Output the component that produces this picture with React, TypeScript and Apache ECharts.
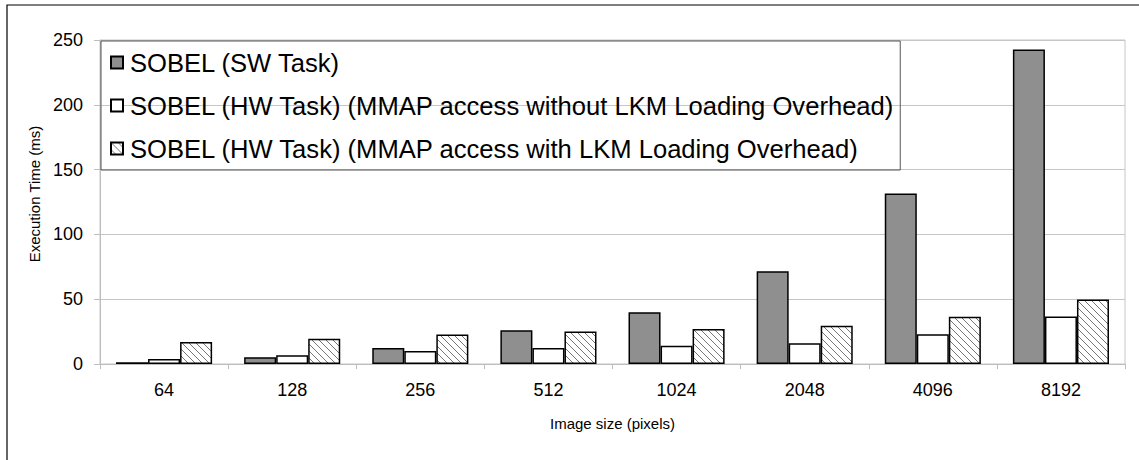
import React, { useEffect, useRef } from "react";
import * as echarts from "echarts";

// Image sizes on the x axis
const categories = ["64", "128", "256", "512", "1024", "2048", "4096", "8192"];

// Execution times (ms)
const swTask = [1.3, 5.2, 12.4, 26.1, 40, 71.5, 131.5, 242.6];
const hwNoLkm = [3.9, 6.7, 10, 12.4, 14, 16, 23, 36.7];
const hwWithLkm = [17, 19.4, 22.8, 25, 27, 29.5, 36.4, 49.8];

const seriesNames = [
  "SOBEL (SW Task)",
  "SOBEL (HW Task) (MMAP access without LKM Loading Overhead)",
  "SOBEL (HW Task) (MMAP access with LKM Loading Overhead)",
];

const FONT = "'Liberation Sans', Arial, Helvetica, sans-serif";

// Diagonal hatch tile (top-left to bottom-right strokes)
const hatchSvg =
  "<svg xmlns='http://www.w3.org/2000/svg' width='7' height='7'>" +
  "<rect width='7' height='7' fill='white'/>" +
  "<path d='M0,0 L7,7 M-1,6 L1,8 M6,-1 L8,1' stroke='#666' stroke-width='0.9'/>" +
  "</svg>";
const hatchUrl = "data:image/svg+xml;charset=utf-8," + encodeURIComponent(hatchSvg);

export default function App() {
  const ref = useRef<HTMLDivElement>(null);

  useEffect(() => {
    document.body.style.margin = "0";
    const chart = echarts.init(ref.current!, undefined, { renderer: "svg" });
    const border = { borderColor: "#000", borderWidth: 1.5 };
    chart.setOption({
      animation: false,
      backgroundColor: "#fff",
      textStyle: { fontFamily: FONT },
      graphic: [
        {
          type: "rect",
          shape: { x: 7, y: 5, width: 2000, height: 2000 },
          style: { fill: "none", stroke: "#000", lineWidth: 1.2 },
          silent: true,
        },
      ],
      grid: {
        left: 100,
        right: 14,
        top: 40,
        bottom: 96,
        show: true,
        borderColor: "#c6c6c6",
        borderWidth: 1,
      },
      legend: {
        orient: "vertical",
        left: 101,
        top: 41,
        padding: [7, 5, 7, 9],
        itemGap: 14,
        itemWidth: 12,
        itemHeight: 12,
        icon: "rect",
        borderColor: "#555",
        borderWidth: 1,
        backgroundColor: "transparent",
        textStyle: {
          fontFamily: FONT,
          fontSize: 25.6,
          color: "#000",
          lineHeight: 29,
          padding: [0, 0, 0, 2],
        },
        data: seriesNames,
      },
      xAxis: {
        type: "category",
        data: categories,
        axisLine: { lineStyle: { color: "#bdbdbd", width: 1 } },
        axisTick: { show: true, length: 5, lineStyle: { color: "#bdbdbd" } },
        axisLabel: { color: "#000", fontSize: 18, margin: 17, fontFamily: FONT },
        name: "Image size (pixels)",
        nameLocation: "middle",
        nameGap: 52,
        nameTextStyle: { color: "#000", fontSize: 15, fontFamily: FONT },
      },
      yAxis: {
        type: "value",
        min: 0,
        max: 250,
        interval: 50,
        axisLine: { show: true, lineStyle: { color: "#bdbdbd", width: 1 } },
        axisTick: { show: true, length: 6, lineStyle: { color: "#bdbdbd" } },
        splitLine: { lineStyle: { color: "#c6c6c6", width: 1 } },
        axisLabel: { color: "#000", fontSize: 18, margin: 17, fontFamily: FONT },
        name: "Execution Time (ms)",
        nameLocation: "middle",
        nameGap: 58,
        nameTextStyle: {
          color: "#000",
          fontSize: 15,
          fontFamily: FONT,
          padding: [0, 0, 0, 16],
        },
      },
      series: [
        {
          name: seriesNames[0],
          type: "bar",
          data: swTask,
          barGap: "0%",
          barCategoryGap: "25%",
          itemStyle: { color: "#8f8f8f", ...border },
        },
        {
          name: seriesNames[1],
          type: "bar",
          data: hwNoLkm,
          barGap: "0%",
          barCategoryGap: "25%",
          itemStyle: { color: "#ffffff", ...border },
        },
        {
          name: seriesNames[2],
          type: "bar",
          data: hwWithLkm,
          barGap: "0%",
          barCategoryGap: "25%",
          itemStyle: {
            color: { image: hatchUrl, repeat: "repeat" },
            ...border,
          },
        },
      ],
    });
    return () => chart.dispose();
  }, []);

  return (
    <div
      ref={ref}
      style={{ position: "absolute", left: 0, top: 0, width: 1139, height: 460 }}
    />
  );
}
